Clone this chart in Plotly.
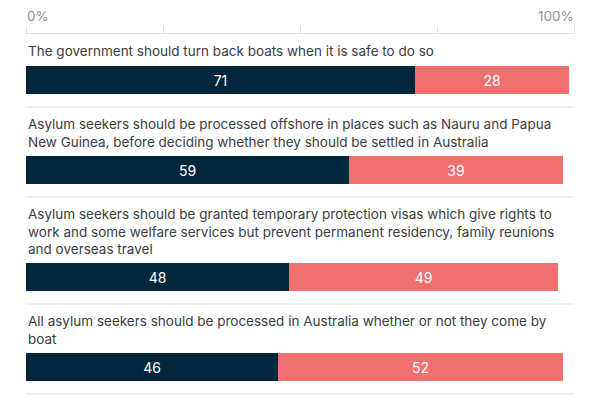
import plotly.graph_objects as go

statements = [
    "The government should turn back boats when it is safe to do so",
    "Asylum seekers should be processed offshore in places such as Nauru and Papua<br>New Guinea, before deciding whether they should be settled in Australia",
    "Asylum seekers should be granted temporary protection visas which give rights to<br>work and some welfare services but prevent permanent residency, family reunions<br>and overseas travel",
    "All asylum seekers should be processed in Australia whether or not they come by<br>boat",
]
agree = [71, 59, 48, 46]
disagree = [28, 39, 49, 52]
tick_vals = [0, 25, 50, 75, 100]

NAVY = "#03263C"
RED = "#F07070"
TEXT = "#3a3d42"
GRID = "#dde3ea"
FONT = "Inter, Roboto, sans-serif"

# the page body has an 8px default margin; compensate so the plot lands where intended
OFF = 8
# layout positions in screen pixel units (y axis maps 1:1 to pixels)
LINE_H = 17
TOP = 34
BAR_H = 28
centers, label_tops, seps = [], [], []
cur = TOP
for s in statements:
    n = s.count("<br>") + 1
    label_tops.append(cur + 7)
    bar_top = cur + 15 + LINE_H * n
    centers.append(bar_top + BAR_H / 2)
    cur = bar_top + BAR_H + 13
    seps.append(cur)

fig = go.Figure()
fig.add_trace(go.Bar(
    x=agree, y=centers, orientation="h", width=BAR_H,
    marker=dict(color=NAVY, line=dict(width=0)),
    text=agree, textposition="inside", insidetextanchor="middle",
    textfont=dict(color="white", size=14, family=FONT),
    hoverinfo="skip",
))
fig.add_trace(go.Bar(
    x=disagree, y=centers, orientation="h", width=BAR_H,
    marker=dict(color=RED, line=dict(width=0)),
    text=disagree, textposition="inside", insidetextanchor="middle",
    textfont=dict(color="white", size=14, family=FONT),
    hoverinfo="skip",
))

shapes = []
for s in seps:
    shapes.append(dict(type="line", xref="x", yref="y", x0=0, x1=100, y0=s, y1=s,
                       line=dict(color=GRID, width=1.2), layer="below"))

annotations = []
for s, t in zip(statements, label_tops):
    annotations.append(dict(x=0, y=t, xref="x", yref="y", text=s, showarrow=False,
                            xanchor="left", yanchor="top", align="left",
                            font=dict(size=13.5, color=TEXT, family=FONT)))
annotations.append(dict(x=tick_vals[0], y=1, xref="x", yref="paper", text=f"{tick_vals[0]}%",
                        showarrow=False, xanchor="left", yanchor="middle", yshift=18,
                        xshift=-1, font=dict(size=13.5, color="#8d939c", family=FONT)))
annotations.append(dict(x=tick_vals[-1], y=1, xref="x", yref="paper", text=f"{tick_vals[-1]}%",
                        showarrow=False, xanchor="right", yanchor="middle", yshift=18,
                        xshift=2, font=dict(size=13.5, color="#8d939c", family=FONT)))

fig.update_layout(
    width=600, height=400,
    margin=dict(l=26 - OFF, r=26 + OFF, t=TOP - OFF, b=OFF, autoexpand=False),
    barmode="stack", bargap=0,
    plot_bgcolor="white", paper_bgcolor="white",
    showlegend=False,
    shapes=shapes, annotations=annotations,
    xaxis=dict(range=[0, 100], side="top", tickvals=tick_vals, showticklabels=False,
               ticks="outside", ticklen=7, tickcolor=GRID, tickwidth=1.2,
               showline=True, linecolor=GRID, linewidth=1.2,
               showgrid=False, zeroline=False, fixedrange=True),
    yaxis=dict(range=[400, TOP], visible=False, showgrid=False, zeroline=False, fixedrange=True),
)

fig.write_html("out.html")
